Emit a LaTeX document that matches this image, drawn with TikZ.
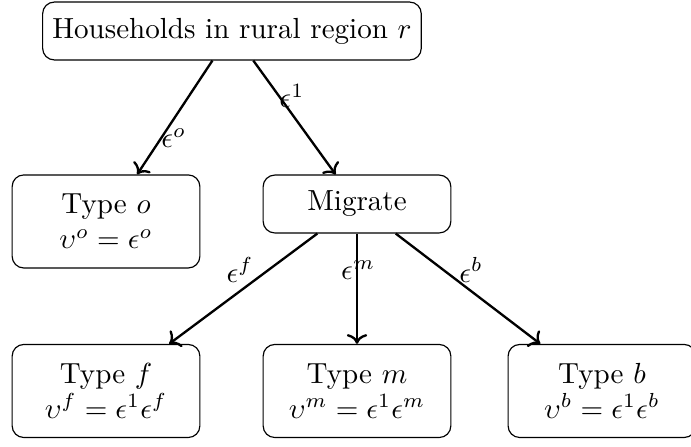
\documentclass[tikz,border=0pt]{standalone}
\usepackage{amsmath}
\usetikzlibrary{arrows.meta, positioning}

\begin{document}
\begin{tikzpicture}[
  box/.style={draw, rounded corners, minimum width=2.27cm, minimum height=0.70cm,
              align=center, inner sep=3.33pt},
  tall/.style={box, minimum height=1.125cm},
  arr/.style={->, thick},
  lbl/.style={inner sep=1pt}
]
\useasboundingbox (0,0) rectangle (8.356,-5.405);

% Households
\node[box]  (hh)  at (2.805,-0.375) {Households in rural region $r$};

% First level
\node[tall] (typeo)   at (1.282,-2.678) {Type $o$\\$\upsilon^{o}=\epsilon^{o}$};
\node[box]  (migrate) at (4.317,-2.467) {Migrate};

% Second level
\node[tall] (typef) at (1.282,-4.728) {Type $f$\\$\upsilon^{f}=\epsilon^{1}\epsilon^{f}$};
\node[tall] (typem) at (4.317,-4.728) {Type $m$\\$\upsilon^{m}=\epsilon^{1}\epsilon^{m}$};
\node[tall] (typeb) at (7.279,-4.728) {Type $b$\\$\upsilon^{b}=\epsilon^{1}\epsilon^{b}$};

% Edges
\draw[arr] (hh) -- (typeo) node[lbl, pos=0.68, xshift=4.3pt] {$\epsilon^{o}$};
\draw[arr] (hh) -- (migrate) node[lbl, pos=0.31, xshift=4.5pt] {$\epsilon^{1}$};
\draw[arr] (migrate) -- (typef) node[lbl, pos=0.33, xshift=-9.8pt] {$\epsilon^{f}$};
\draw[arr] (migrate) -- (typem) node[lbl, pos=0.33, xshift=0.4pt] {$\epsilon^{m}$};
\draw[arr] (migrate) -- (typeb) node[lbl, pos=0.33, xshift=9.5pt] {$\epsilon^{b}$};
\end{tikzpicture}
\end{document}
